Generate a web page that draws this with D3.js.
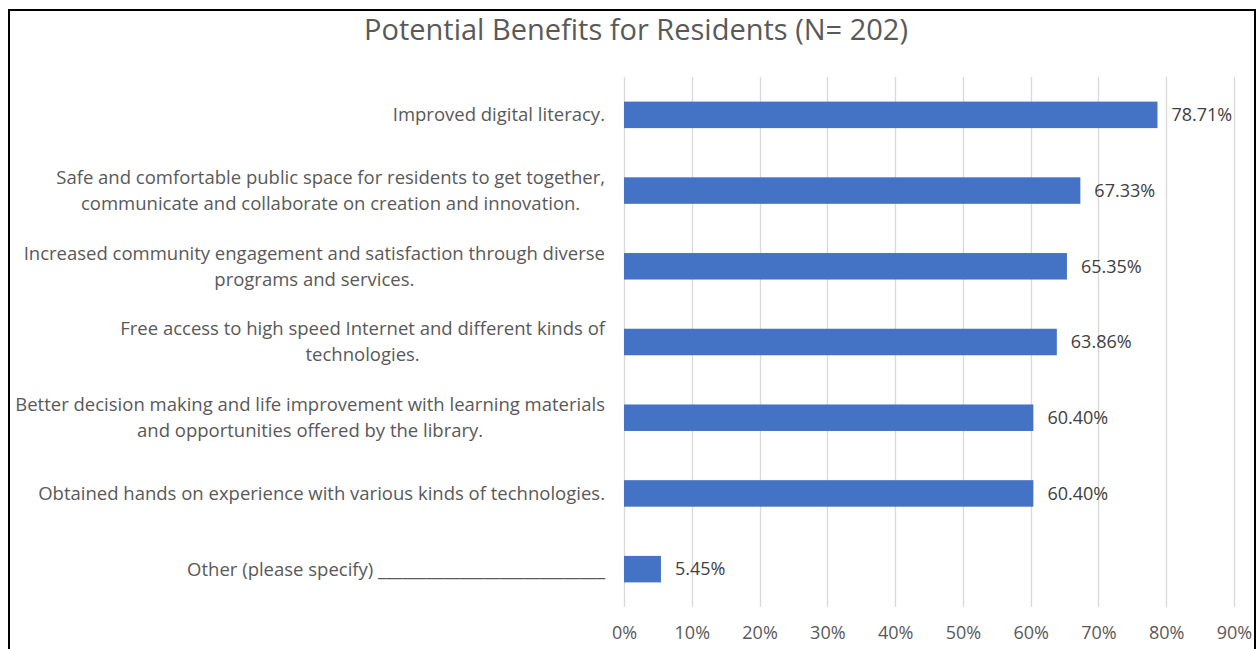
<!DOCTYPE html>
<html>
<head>
<meta charset="utf-8">
<script src="https://cdn.jsdelivr.net/npm/d3@7"></script>
<style>
  html, body { margin: 0; padding: 0; background: #ffffff; }
  svg { display: block; }
</style>
</head>
<body>
<svg id="chart" width="1257" height="649"></svg>
<script>
const title = "Potential Benefits for Residents (N= 202)";
const categories = [
  "Improved digital literacy.",
  "Safe and comfortable public space for residents to get together,\ncommunicate and collaborate on creation and innovation.",
  "Increased community engagement and satisfaction through diverse\nprograms and services.",
  "Free access to high speed Internet and different kinds of\ntechnologies.",
  "Better decision making and life improvement with learning materials\nand opportunities offered by the library.",
  "Obtained hands on experience with various kinds of technologies.",
  "Other (please specify) ____________________________"
];
const values = [78.71, 67.33, 65.35, 63.86, 60.40, 60.40, 5.45];
const valueLabels = ["78.71%", "67.33%", "65.35%", "63.86%", "60.40%", "60.40%", "5.45%"];
const tickValues = [0, 10, 20, 30, 40, 50, 60, 70, 80, 90];
const tickLabels = ["0%", "10%", "20%", "30%", "40%", "50%", "60%", "70%", "80%", "90%"];

const FONT = "'Open Sans', 'Noto Sans', sans-serif";
const svg = d3.select("#chart");

// frame
svg.append("path")
  .attr("d", "M9,660 L9,10 L1255,10 L1255,660")
  .attr("fill", "none").attr("stroke", "#000").attr("stroke-width", 2);

const x = d3.scaleLinear().domain([0, 90]).range([624, 1234]);
const y = d3.scaleBand().domain(categories).range([77, 607])
  .paddingInner(0.65).paddingOuter(0.325);

// title
svg.append("text")
  .attr("x", 636).attr("y", 40)
  .attr("text-anchor", "middle")
  .attr("font-family", FONT).attr("font-size", 29)
  .attr("fill", "#595959")
  .text(title);

// gridlines
svg.append("g").selectAll("line").data(tickValues).join("line")
  .attr("x1", d => Math.round(x(d)) + 0.5).attr("x2", d => Math.round(x(d)) + 0.5)
  .attr("y1", 77).attr("y2", 607)
  .attr("stroke", "#d9d9d9").attr("stroke-width", 1.3);

// x axis
const xAxis = d3.axisBottom(x).tickValues(tickValues)
  .tickFormat((d, i) => tickLabels[i]).tickSize(0).tickPadding(0);
const gx = svg.append("g").attr("transform", "translate(0,633)").call(xAxis);
gx.select(".domain").remove();
gx.selectAll("text")
  .attr("font-family", FONT).attr("font-size", 18)
  .attr("fill", "#595959").attr("dy", "0.35em");

// bars
svg.append("g").selectAll("rect").data(values).join("rect")
  .attr("x", x(0))
  .attr("y", (d, i) => y(categories[i]))
  .attr("width", d => x(d) - x(0))
  .attr("height", y.bandwidth())
  .attr("fill", "#4472c4");

// data labels
svg.append("g").selectAll("text").data(values).join("text")
  .attr("x", d => x(d) + 14)
  .attr("y", (d, i) => y(categories[i]) + y.bandwidth() / 2)
  .attr("dy", "0.35em")
  .attr("font-family", FONT).attr("font-size", 18)
  .attr("fill", "#404040")
  .text((d, i) => valueLabels[i]);

// category labels
const lineH = 26;
const gl = svg.append("g");
categories.forEach((c, i) => {
  const lines = c.split("\n");
  const cy = y(c) + y.bandwidth() / 2;
  const t = gl.append("text")
    .attr("font-family", FONT).attr("font-size", 18.5)
    .attr("fill", "#595959")
    .attr("text-anchor", "middle");
  lines.forEach((ln, j) => {
    t.append("tspan")
      .attr("y", cy + (j - (lines.length - 1) / 2) * lineH)
      .attr("dy", "0.35em")
      .text(ln);
  });
  let maxW = 0;
  t.selectAll("tspan").each(function () {
    maxW = Math.max(maxW, this.getComputedTextLength());
  });
  t.selectAll("tspan").attr("x", 605 - maxW / 2);
});
</script>
</body>
</html>
